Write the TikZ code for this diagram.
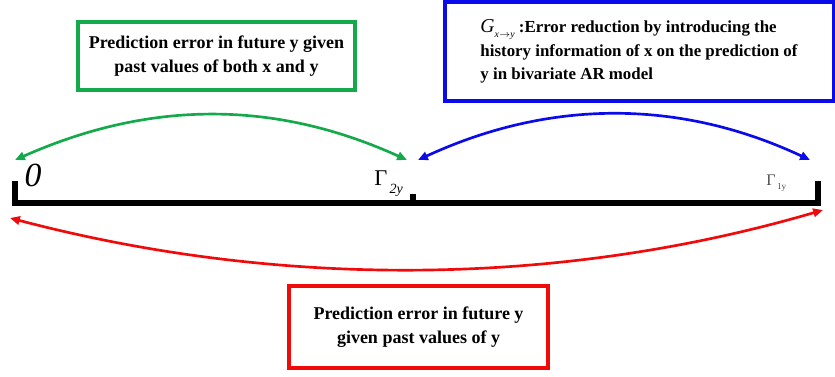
\documentclass[tikz,border=0pt]{standalone}
\usepackage{fontspec}
\setmainfont{Liberation Serif}
\usetikzlibrary{arrows.meta,positioning,calc}
\definecolor{errgreen}{RGB}{20,170,75}
\definecolor{errblue}{RGB}{10,10,235}
\definecolor{errred}{RGB}{240,10,10}

\begin{document}
\begin{tikzpicture}[
  x=0.025cm, y=-0.025cm,
  >={Triangle[length=7pt,width=6pt]},
  %% Text boxes: plain rectangles, bold serif
  errbox/.style={draw,line width=2.2pt,inner sep=0pt,text=black,
                 font=\bfseries\fontsize{12.8}{16.8}\selectfont},
  %% Error arcs: coloured, arrow at both ends
  errarc/.style={<->,line width=1.9pt},
  %% Axis: heavy black line with ticks
  axis/.style={line width=3.6pt,line join=miter}
]
\useasboundingbox (0,0) rectangle (835,376);

%% ---- AXIS ----
\coordinate (zeroTop) at (15,181);
\coordinate (zero)    at (15,203);
\coordinate (twoTop)  at (413,194);
\coordinate (two)     at (413,203);
\coordinate (oneTop)  at (818,181);
\coordinate (one)     at (818,203);
\draw[axis] (zeroTop) -- (zero) -- (one) -- (oneTop);
\draw[axis] (two) -- (twoTop);

%% ---- AXIS LABELS ----
\node[font=\itshape\fontsize{24}{24}\selectfont] (zerolab) at (33,175) {0};
\node[anchor=base west,inner sep=0pt,font=\fontsize{16}{16}\selectfont] (twolab) at (374,185)
  {Γ\raisebox{-6pt}{\fontsize{10}{10}\selectfont\itshape\,2y}};
\node[anchor=base west,inner sep=0pt,text=black!70,font=\fontsize{11.5}{11.5}\selectfont] (onelab) at (766,185)
  {Γ\raisebox{-3pt}{\fontsize{6.5}{6.5}\selectfont\,1y}};

%% ---- ARC END POINTS ----
\coordinate (gL) at (15,160);
\coordinate (gR) at (407,160);
\coordinate (bL) at (418,160);
\coordinate (bR) at (810,160);
\coordinate (rL) at (10,218);
\coordinate (rR) at (823,210);

%% ---- ARCS ----
\draw[errarc,errgreen] (gL) .. controls (150,100) and (275,100) .. (gR);
\draw[errarc,errblue]  (bL) .. controls (550,99) and (680,99) .. (bR);
\draw[errarc,errred]   (rL) .. controls (280,289) and (560,287) .. (rR);

%% ---- BOXES ----
\node[errbox,draw=errgreen,align=center,minimum width=6.925cm,minimum height=1.7cm]
  (bothbox) at (216.5,56)
  {Prediction error in future y given\\past values of both x and y};
\node[errbox,draw=errblue,align=left,minimum width=9.7cm,minimum height=2.475cm,
      font=\bfseries\fontsize{12}{16.5}\selectfont]
  (gainbox) at (639,51.5)
  {\textmd{\fontsize{14}{14}\selectfont\itshape G\raisebox{-3pt}{\fontsize{7}{7}\selectfont x$\rightarrow$y}}
   :Error reduction by introducing the\\
   history information of x on the prediction of\\
   y in bivariate AR model};
\node[errbox,draw=errred,align=center,minimum width=6.475cm,minimum height=2.05cm]
  (selfbox) at (418.5,327)
  {Prediction error in future y\\given past values of y};

\end{tikzpicture}
\end{document}
